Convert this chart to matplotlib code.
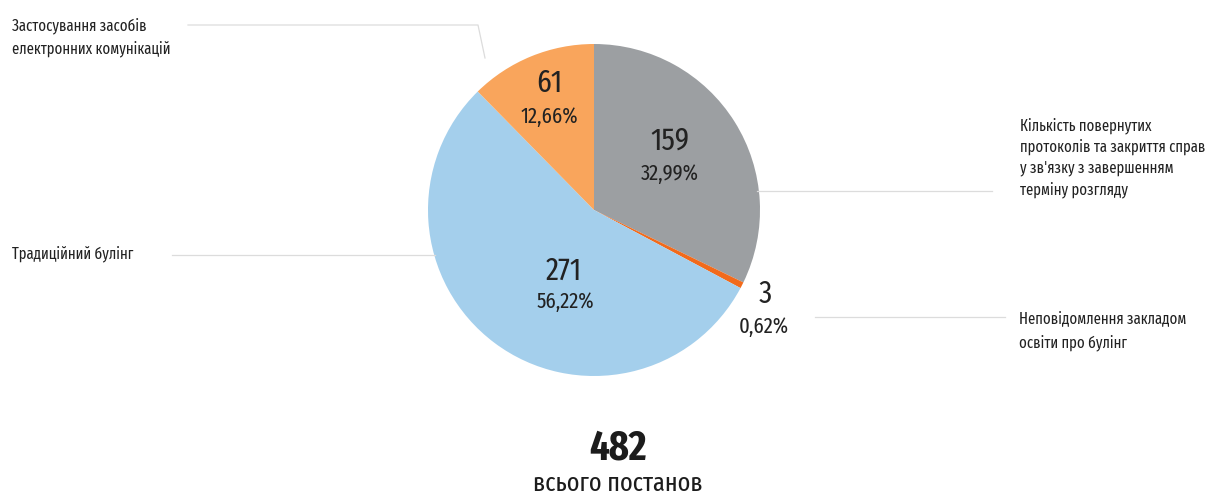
from matplotlib import pyplot as plt

plt.rcParams["font.family"] = ["Fira Sans Extra Condensed", "DejaVu Sans"]

# data
categories = [
    "Кількість повернутих\nпротоколів та закриття справ\nу зв'язку з завершенням\nтерміну розгляду",
    "Неповідомлення закладом\nосвіти про булінг",
    "Традиційний булінг",
    "Застосування засобів\nелектронних комунікацій",
]
values = [159, 3, 271, 61]
colors = ["#9c9fa2", "#f26a1b", "#a4cfec", "#f9a55c"]
total_decisions = 482
total_label = "всього постанов"

W, H = 1213, 495
fig = plt.figure(figsize=(W / 100, H / 100), dpi=100)
ax = fig.add_axes([0, 0, 1, 1])

cx, cy, R = 594, H - 210, 166
ax.pie(values, colors=colors, startangle=90, counterclock=False,
       center=(cx, cy), radius=R, frame=True,
       wedgeprops=dict(linewidth=0))

ax.set_xlim(0, W)
ax.set_ylim(0, H)
ax.set_aspect("equal")
ax.axis("off")

# value labels: baseline positions in pixels from top
value_pos = [(670, 150), (765, 303), (564, 280), (549, 92)]
pct_pos = [(670, 180), (764, 333), (565, 308), (549, 123)]
for v, (vx, vy), (px, py) in zip(values, value_pos, pct_pos):
    pct = f"{100 * v / total_decisions:.2f}%".replace(".", ",")
    ax.text(vx, H - vy, str(v), ha="center", va="baseline", fontsize=23,
            color="#222222")
    ax.text(px, H - py, pct, ha="center", va="baseline", fontsize=16,
            color="#222222")

line_kw = dict(color="#dcdcdc", linewidth=0.9)
# leader lines
ax.plot([757, 992], [H - 191, H - 191], **line_kw)
ax.plot([815, 1005], [H - 317, H - 317], **line_kw)
ax.plot([172, 435], [H - 255, H - 255], **line_kw)
ax.plot([188, 478, 485], [H - 25, H - 25, H - 58], **line_kw)

# multi-line labels are anchored at the baseline of their last line
lab_kw = dict(fontsize=11.5, color="#222222", ha="left", va="baseline")
ax.text(1020, H - 194, categories[0], linespacing=1.38, **lab_kw)
ax.text(1019, H - 347, categories[1], linespacing=1.55, **lab_kw)
ax.text(12, H - 258, categories[2], **lab_kw)
ax.text(12, H - 53, categories[3], linespacing=1.45, **lab_kw)

ax.text(618, H - 460, str(total_decisions), ha="center", va="baseline", fontsize=30,
        fontweight="bold", color="#1c1c1c")
ax.text(618, H - 491, total_label, ha="center", va="baseline", fontsize=19,
        color="#1c1c1c")

fig.savefig("out.png", dpi=100)
plt.close(fig)
